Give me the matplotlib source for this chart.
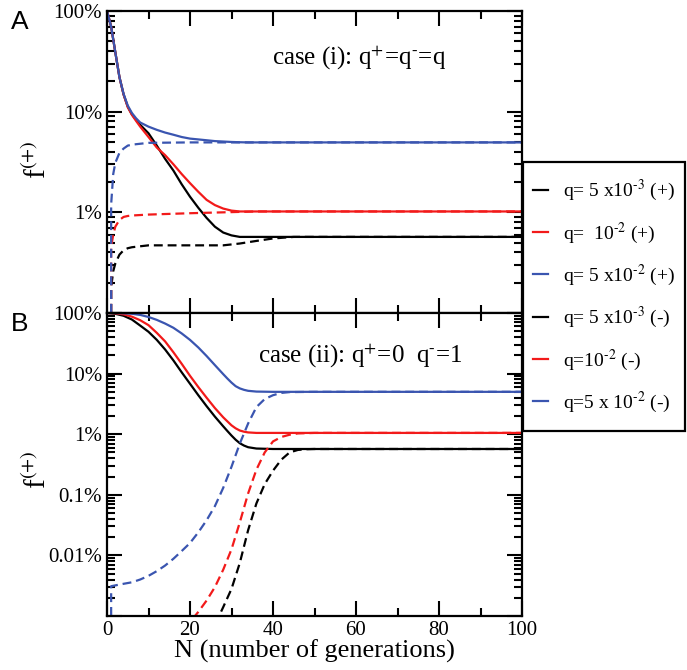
import numpy as np
import matplotlib
matplotlib.use("Agg")
import matplotlib.pyplot as plt
from matplotlib.lines import Line2D
from matplotlib.patches import Rectangle
from matplotlib.ticker import FixedLocator, FixedFormatter, LogLocator, NullFormatter, MultipleLocator

plt.rcParams['font.family'] = ['Liberation Serif', 'DejaVu Serif']
plt.rcParams['mathtext.fontset'] = 'stix'

BLACK = '#000000'
RED = '#f21a1a'
BLUE = '#3a55b0'

# ---- case (i): q+ = q- = q ----
n_a_plus = [0, 1, 2, 3, 4, 5, 6, 7, 8, 10, 12, 14, 16, 18, 20, 22, 24, 26, 28, 30, 32, 34, 36, 40, 50, 100]
a_black_plus = [1.0, 0.70, 0.39, 0.22, 0.148, 0.112, 0.094, 0.083, 0.074, 0.061, 0.046, 0.034, 0.026, 0.019,
                0.0143, 0.0111, 0.0088, 0.0072, 0.0063, 0.0059, 0.0057, 0.0057, 0.0057, 0.0057, 0.0057, 0.0057]
a_red_plus = [1.0, 0.70, 0.39, 0.22, 0.148, 0.111, 0.093, 0.081, 0.071, 0.056, 0.044, 0.037, 0.030, 0.024,
              0.0195, 0.016, 0.0133, 0.0118, 0.0109, 0.0104, 0.0102, 0.0102, 0.0102, 0.0102, 0.0102, 0.0102]
a_blue_plus = [1.0, 0.70, 0.39, 0.22, 0.15, 0.115, 0.097, 0.086, 0.078, 0.071, 0.066, 0.062, 0.059, 0.056,
               0.054, 0.053, 0.052, 0.051, 0.0505, 0.050, 0.0497, 0.0495, 0.0495, 0.0495, 0.0495, 0.0495]

n_a_minus = [0, 1, 1.5, 2, 3, 4, 5, 6, 8, 10, 20, 28, 32, 36, 40, 45, 50, 100]
a_black_minus = [0, 0.0018, 0.0026, 0.0031, 0.0038, 0.0042, 0.0044, 0.0045, 0.0046, 0.0047, 0.0047, 0.0047,
                 0.0049, 0.0052, 0.0055, 0.0057, 0.0057, 0.0057]
a_red_minus = [0, 0.0045, 0.006, 0.0072, 0.0084, 0.009, 0.0092, 0.0093, 0.0094, 0.0095, 0.0098, 0.0100,
               0.0101, 0.0102, 0.0102, 0.0102, 0.0102, 0.0102]
a_blue_minus = [0, 0.012, 0.024, 0.031, 0.039, 0.043, 0.046, 0.047, 0.048, 0.049, 0.0495, 0.0495,
                0.0495, 0.0495, 0.0495, 0.0495, 0.0495, 0.0495]

# ---- case (ii): q+ = 0, q- = 1 ----
n_b_plus = [0, 2, 4, 6, 8, 10, 12, 14, 16, 18, 20, 22, 24, 26, 28, 29, 30, 31, 32, 33, 34, 36, 40, 100]
b_black_plus = [1.0, 0.97, 0.9, 0.78, 0.62, 0.49, 0.36, 0.25, 0.165, 0.105, 0.068, 0.044, 0.029, 0.0195,
                0.0135, 0.0113, 0.0095, 0.0081, 0.0071, 0.0065, 0.0061, 0.0058, 0.0057, 0.0057]
b_red_plus = [1.0, 0.99, 0.95, 0.87, 0.76, 0.63, 0.47, 0.34, 0.225, 0.145, 0.092, 0.06, 0.04, 0.027,
              0.019, 0.0163, 0.014, 0.0125, 0.0115, 0.011, 0.0107, 0.0105, 0.0105, 0.0105]
b_blue_plus = [1.0, 1.0, 0.99, 0.97, 0.93, 0.86, 0.77, 0.67, 0.57, 0.46, 0.36, 0.27, 0.195, 0.138,
               0.098, 0.083, 0.071, 0.062, 0.057, 0.054, 0.052, 0.0505, 0.050, 0.050]

n_b_black_minus = [0, 20, 26, 27, 28, 30, 32, 34, 36, 38, 40, 42, 44, 46, 48, 50, 100]
b_black_minus = [0, 2e-6, 8e-6, 1e-5, 1.4e-5, 2.8e-5, 7.5e-5, 2.6e-4, 7.2e-4, 1.5e-3, 2.5e-3, 3.8e-3,
                 5.0e-3, 5.5e-3, 5.65e-3, 5.7e-3, 5.7e-3]
n_b_red_minus = [0, 18, 20, 22, 24, 26, 28, 30, 32, 34, 36, 38, 40, 42, 44, 46, 50, 100]
b_red_minus = [0, 4e-6, 7.9e-6, 1.17e-5, 1.8e-5, 3.0e-5, 5.8e-5, 1.26e-4, 3.5e-4, 1.05e-3, 2.6e-3,
               5.0e-3, 7.6e-3, 9.0e-3, 9.8e-3, 0.0103, 0.0105, 0.0105]
n_b_blue_minus = [0, 1, 2, 4, 6, 8, 10, 12, 14, 16, 18, 20, 22, 24, 26, 28, 30, 32, 34, 36, 38, 40,
                  42, 44, 50, 100]
b_blue_minus = [0, 3.1e-5, 3.2e-5, 3.4e-5, 3.6e-5, 4.0e-5, 4.6e-5, 5.5e-5, 6.8e-5, 8.8e-5, 1.18e-4,
                1.6e-4, 2.4e-4, 3.8e-4, 6.5e-4, 1.3e-3, 2.9e-3, 7.0e-3, 0.015, 0.028, 0.038, 0.044,
                0.048, 0.0495, 0.050, 0.050]

legend_labels = [r'q= 5 x10$^{\text{-}3}$ (+)', r'q=  10$^{\text{-}2}$ (+)', r'q= 5 x10$^{\text{-}2}$ (+)',
                 r'q= 5 x10$^{\text{-}3}$ (-)', r'q=10$^{\text{-}2}$ (-)', r'q=5 x 10$^{\text{-}2}$ (-)']
legend_colors = [BLACK, RED, BLUE, BLACK, RED, BLUE]

LW = 1.6
DASH = (4, 2.2)

fig = plt.figure(figsize=(6.87, 6.70), dpi=100)
W, H = 687, 670
x0, x1 = 107, 522
ax1 = fig.add_axes([x0 / W, 1 - 313 / H, (x1 - x0) / W, (313 - 11) / H])
ax2 = fig.add_axes([x0 / W, 1 - 616 / H, (x1 - x0) / W, (616 - 313) / H])

ax1.plot(n_a_plus, a_black_plus, color=BLACK, lw=LW)
ax1.plot(n_a_plus, a_red_plus, color=RED, lw=LW)
ax1.plot(n_a_plus, a_blue_plus, color=BLUE, lw=LW)
ax1.plot(n_a_minus, a_black_minus, color=BLACK, lw=LW, dashes=DASH)
ax1.plot(n_a_minus, a_red_minus, color=RED, lw=LW, dashes=DASH)
ax1.plot(n_a_minus, a_blue_minus, color=BLUE, lw=LW, dashes=DASH)

ax2.plot(n_b_plus, b_black_plus, color=BLACK, lw=LW)
ax2.plot(n_b_plus, b_red_plus, color=RED, lw=LW)
ax2.plot(n_b_plus, b_blue_plus, color=BLUE, lw=LW)
ax2.plot(n_b_black_minus, b_black_minus, color=BLACK, lw=LW, dashes=DASH)
ax2.plot(n_b_red_minus, b_red_minus, color=RED, lw=LW, dashes=DASH)
ax2.plot(n_b_blue_minus, b_blue_minus, color=BLUE, lw=LW, dashes=DASH)


def style(ax, lo, labels):
    ax.set_yscale('log')
    ax.set_xlim(0, 100)
    ax.set_ylim(lo, 1)
    decades = [10.0 ** k for k in range(int(np.log10(lo)), 1)]
    ax.yaxis.set_major_locator(FixedLocator(decades))
    ax.yaxis.set_major_formatter(FixedFormatter(labels))
    ax.yaxis.set_minor_locator(LogLocator(base=10, subs=np.arange(2, 10), numticks=20))
    ax.yaxis.set_minor_formatter(NullFormatter())
    ax.xaxis.set_major_locator(MultipleLocator(20))
    ax.xaxis.set_minor_locator(MultipleLocator(10))
    ax.tick_params(which='both', direction='in', top=True, right=True, width=1.5, labelsize=15)
    ax.tick_params(which='major', length=11)
    ax.tick_params(which='minor', length=6)
    for s in ax.spines.values():
        s.set_linewidth(1.6)


style(ax1, 1e-3, ['', '1%', '10%', '100%'])
style(ax2, 1e-5, ['', '0.01%', '0.1%', '1%', '10%', '100%'])
ax1.tick_params(labelbottom=False)
ax2.set_xlabel('N (number of generations)', fontsize=19, labelpad=0)

ax1.text(0.398, 0.821, r'case (i): q$^{+}$=q$^{\text{-}}$=q', transform=ax1.transAxes,
         fontsize=18, va='baseline')
ax2.text(0.364, 0.835, r'case (ii): q$^{+}$=0  q$^{\text{-}}$=1', transform=ax2.transAxes,
         fontsize=18, va='baseline')

fig.text(38 / W, 1 - 160 / H, 'f$^{(+)}$', rotation=90, fontsize=21, ha='center', va='center')
fig.text(38 / W, 1 - 470 / H, 'f$^{(+)}$', rotation=90, fontsize=21, ha='center', va='center')
fig.text(20 / W, 1 - 22 / H, 'A', fontsize=19, family='Liberation Sans', ha='center', va='center')
fig.text(20 / W, 1 - 324 / H, 'B', fontsize=19, family='Liberation Sans', ha='center', va='center')

# legend box (outside the axes, on the right)
bx0, by0, bx1, by1 = 523, 162, 685, 431
box = Rectangle((bx0 / W, 1 - by1 / H), (bx1 - bx0) / W, (by1 - by0) / H, transform=fig.transFigure,
                facecolor='white', edgecolor='black', lw=1.6, zorder=5)
fig.patches.append(box)

handles = [Line2D([], [], color=c, lw=LW) for c in legend_colors]
leg = fig.legend(handles, legend_labels, loc='center',
                 bbox_to_anchor=((bx0 + bx1) / 2 / W, 1 - (by0 + by1) / 2 / H),
                 fontsize=14, frameon=False, handlelength=0.8, handletextpad=0.75,
                 borderpad=0.2, labelspacing=0.88, borderaxespad=0)
leg.set_zorder(6)

fig.savefig('out.png', dpi=100)
